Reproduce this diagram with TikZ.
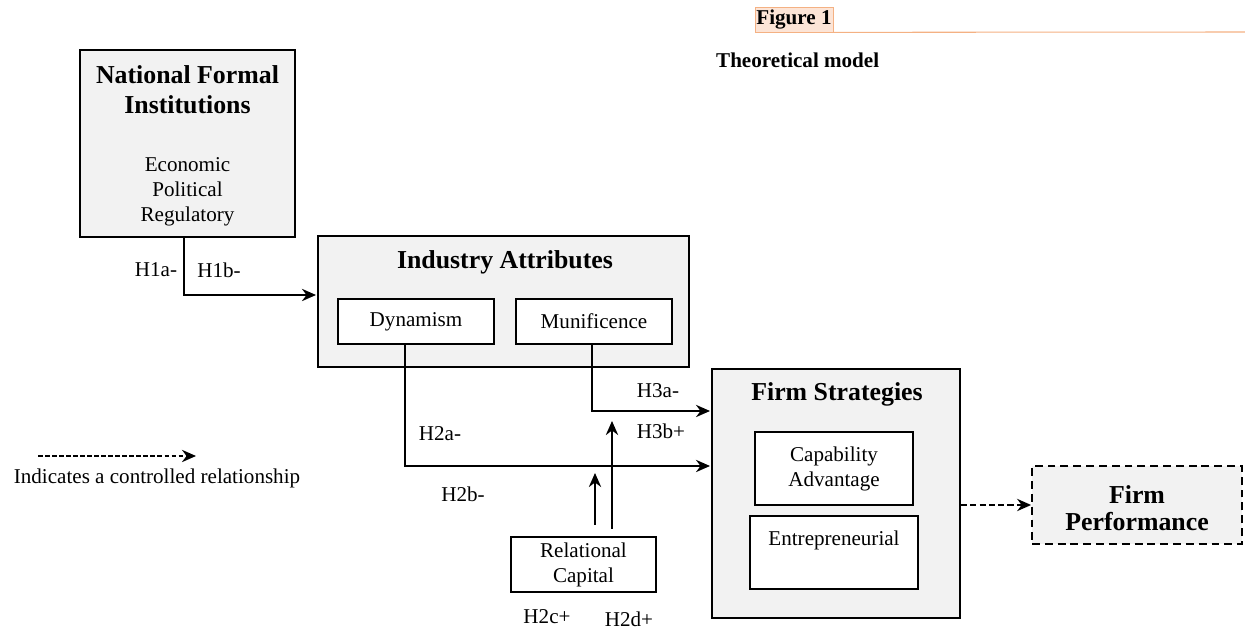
\documentclass[tikz,border=0pt]{standalone}
\usepackage{fontspec}
\setmainfont{Liberation Serif}
\usetikzlibrary{arrows.meta,positioning}

\definecolor{boxgray}{HTML}{F2F2F2}
\definecolor{figfill}{HTML}{FCE4D6}
\definecolor{figline}{HTML}{F4B183}

\tikzset{
    outerbox/.style = {draw, line width=1pt, fill=boxgray, inner sep=0pt},
    innerbox/.style = {draw, line width=1pt, fill=white, inner sep=0pt, align=center},
    headtext/.style = {font=\fontsize{14.7}{17}\selectfont\bfseries, align=center},
    bodytext/.style = {font=\fontsize{12}{14.2}\selectfont, align=center},
    hyplabel/.style = {font=\fontsize{12}{14}\selectfont},
    link/.style = {line width=1pt, -{Stealth[length=8pt,width=7pt]}},
    controlled/.style = {link, dash pattern=on 3.5pt off 1.8pt}
}

\begin{document}
\begin{tikzpicture}[x=0.02cm, y=-0.02cm]
\useasboundingbox (0,0) rectangle (1245,634);

% caption
\node[draw=figline, fill=figfill, line width=0.4pt, minimum width=78*0.02cm, minimum height=25*0.02cm,
      inner sep=0pt, font=\fontsize{12}{14}\selectfont\bfseries] (fig) at (794,19.5) {Figure 1};
\coordinate (figend) at (1245,32);
\draw[figline, line width=0.6pt] (fig.south east) -- (figend);
\node[font=\fontsize{12}{14}\selectfont\bfseries, anchor=west] (model) at (710,60) {Theoretical model};

% boxes
\node[outerbox, minimum width=215*0.02cm, minimum height=187*0.02cm] (nfi) at (187.5,143.5) {};
\node[headtext] (nfititle) at (187.5,90) {National Formal\\Institutions};
\node[bodytext] (nfilist) at (187.5,192) {Economic\\Political\\Regulatory};

\node[outerbox, minimum width=371*0.02cm, minimum height=131*0.02cm] (ind) at (503.5,301.5) {};
\node[headtext] (indtitle) at (505,262) {Industry Attributes};
\node[innerbox, bodytext, minimum width=156*0.02cm, minimum height=45*0.02cm] (dyn) at (416,321.5) {Dynamism};
\node[innerbox, bodytext, minimum width=156*0.02cm, minimum height=45*0.02cm] (mun) at (594,321.5) {Munificence};

\node[outerbox, minimum width=248*0.02cm, minimum height=249*0.02cm] (fs) at (836,493.5) {};
\node[headtext] (fstitle) at (837,394) {Firm Strategies};
\node[innerbox, bodytext, minimum width=158*0.02cm, minimum height=73*0.02cm] (cap) at (834,468.5) {Capability\\Advantage};
\node[innerbox, minimum width=168*0.02cm, minimum height=73*0.02cm] (ent) at (834,552.5) {};
\node[bodytext] (enttext) at (834,540) {Entrepreneurial};

\node[innerbox, bodytext, minimum width=145*0.02cm, minimum height=55*0.02cm] (rel) at (583.5,564.5) {Relational\\Capital};

\node[outerbox, dash pattern=on 4.5pt off 2.8pt, minimum width=210*0.02cm, minimum height=78*0.02cm] (fp) at (1137,505) {};
\node[headtext, font=\fontsize{14.7}{15.5}\selectfont\bfseries] (fptitle) at (1137,508) {Firm\\Performance};

% connectors
\coordinate (h1in) at (316,295);
\coordinate (h2in) at (710,466);
\coordinate (h3in) at (710,411);
\coordinate (h2cbot) at (595,525);
\coordinate (h2ctop) at (595,473);
\coordinate (h2dbot) at (612,529);
\coordinate (h2dtop) at (612,421);
\draw[link] (nfi.south -| 184,0) |- (h1in);
\draw[link] (dyn.south -| 405,0) |- (h2in);
\draw[link] (mun.south -| 592,0) |- (h3in);
\draw[link] (h2cbot) -- (h2ctop);
\draw[link] (h2dbot) -- (h2dtop);
\draw[controlled] (fs.east |- fp.west) -- (fp.west);

% hypothesis labels
\node[hyplabel] (h1a) at (156,270) {H1a-};
\node[hyplabel] (h1b) at (219,270) {H1b-};
\node[hyplabel] (h2a) at (440,434) {H2a-};
\node[hyplabel] (h2b) at (463,494) {H2b-};
\node[hyplabel] (h3a) at (658,391) {H3a-};
\node[hyplabel] (h3b) at (661,431) {H3b+};
\node[hyplabel] (h2c) at (547,617) {H2c+};
\node[hyplabel] (h2d) at (629,619) {H2d+};

% legend
\coordinate (legstart) at (38,456);
\coordinate (legend) at (196,456);
\draw[controlled, dash pattern=on 2.6pt off 1.4pt] (legstart) -- (legend);
\node[hyplabel] (legtext) at (157,478) {Indicates a controlled relationship};
\end{tikzpicture}
\end{document}
